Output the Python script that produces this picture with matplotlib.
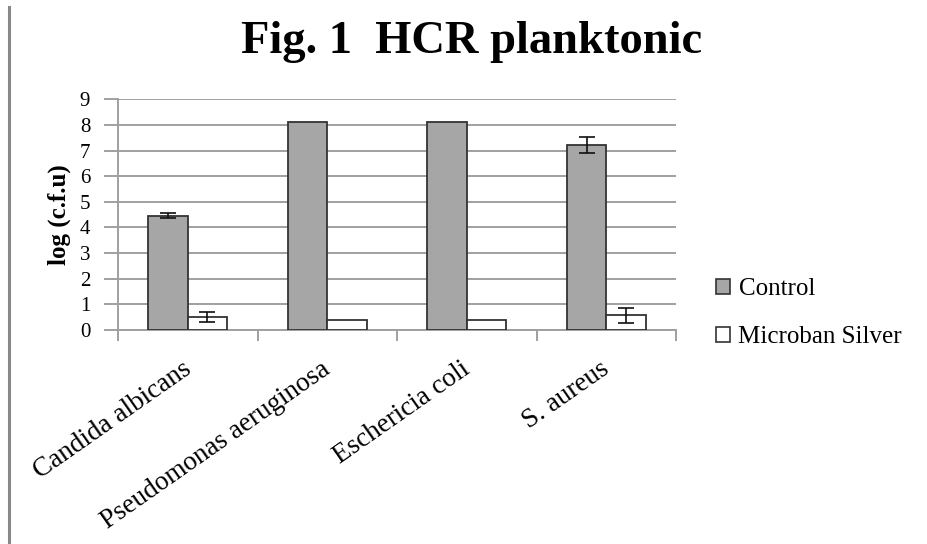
import matplotlib
matplotlib.use("Agg")
import matplotlib.pyplot as plt
from matplotlib.lines import Line2D
import numpy as np

categories = ["Candida albicans", "Pseudomonas aeruginosa", "Eschericia coli", "S. aureus"]
control = [4.46, 8.11, 8.11, 7.20]
control_err = [0.09, 0.0, 0.0, 0.31]
silver = [0.51, 0.40, 0.40, 0.57]
silver_err = [0.18, 0.0, 0.0, 0.28]
series_names = ["Control", "Microban Silver"]
yticks = list(range(0, 10))

plt.rcParams['font.family'] = ['Liberation Serif', 'DejaVu Serif']

fig = plt.figure(figsize=(9.27, 5.44), dpi=100)
ax = fig.add_axes([118/927, 1-330/544, (676-118)/927, (330-99.3)/544])

x = np.arange(len(categories))
w = 0.283
edge = '#333333'
ax.bar(x - w/2, control, w, color='#a6a6a6', edgecolor=edge, linewidth=1.3, zorder=3)
ax.bar(x + w/2, silver, w, color='white', edgecolor=edge, linewidth=1.3, zorder=3)

def draw_err(xs, ys, es):
    idx = [i for i, e in enumerate(es) if e > 0]
    ax.errorbar([xs[i] for i in idx], [ys[i] for i in idx], yerr=[es[i] for i in idx],
                fmt='none', ecolor='#111111', elinewidth=1.2, capsize=6,
                capthick=1.2, zorder=4)

draw_err(x - w/2, control, control_err)
draw_err(x + w/2, silver, silver_err)

ax.set_xlim(-0.5, len(categories) - 0.5)
ax.set_ylim(0, 9)
ax.set_yticks(yticks)
ax.set_yticklabels([str(t) for t in yticks], fontsize=15)
ax.yaxis.grid(True, color='#a0a0a0', linewidth=1.4, zorder=0)
ax.set_axisbelow(True)

ax.set_xticks(np.arange(len(categories) + 1) - 0.5, minor=False)
ax.set_xticklabels([])
ax.set_xticks(x - 0.045, minor=True)
ax.set_xticklabels(categories, minor=True, rotation=35, ha='right',
                   rotation_mode='anchor', fontsize=19.5)
ax.tick_params(axis='x', which='minor', length=0, pad=19)
ax.tick_params(axis='x', which='major', length=8, color='#a0a0a0', width=1.4)
ax.tick_params(axis='y', length=10, color='#a0a0a0', width=1.4, pad=10)

for s in ['top', 'right']:
    ax.spines[s].set_visible(False)
for s in ['left', 'bottom']:
    ax.spines[s].set_color('#a0a0a0')
    ax.spines[s].set_linewidth(1.4)

ax.set_ylabel("log (c.f.u)", fontsize=18, fontweight='bold', labelpad=6)

fig.text(472/927, 1-42/544, "Fig. 1  HCR planktonic", fontsize=33.5, fontweight='bold',
         ha='center', va='center')

handles = [plt.Rectangle((0, 0), 1, 1, facecolor='#a6a6a6', edgecolor=edge, linewidth=1.2),
           plt.Rectangle((0, 0), 1, 1, facecolor='white', edgecolor=edge, linewidth=1.2)]
leg = fig.legend(handles, series_names, loc='center left',
                 bbox_to_anchor=(716/927, 1-313/544), frameon=False, fontsize=18,
                 handlelength=0.55, handleheight=0.55, handletextpad=0.35,
                 labelspacing=1.05, borderaxespad=0, borderpad=0)

fig.add_artist(Line2D([9/927, 9/927], [0, 1-7/544], transform=fig.transFigure,
                      color='#888888', linewidth=2.2))

fig.savefig("out.png", dpi=100)
